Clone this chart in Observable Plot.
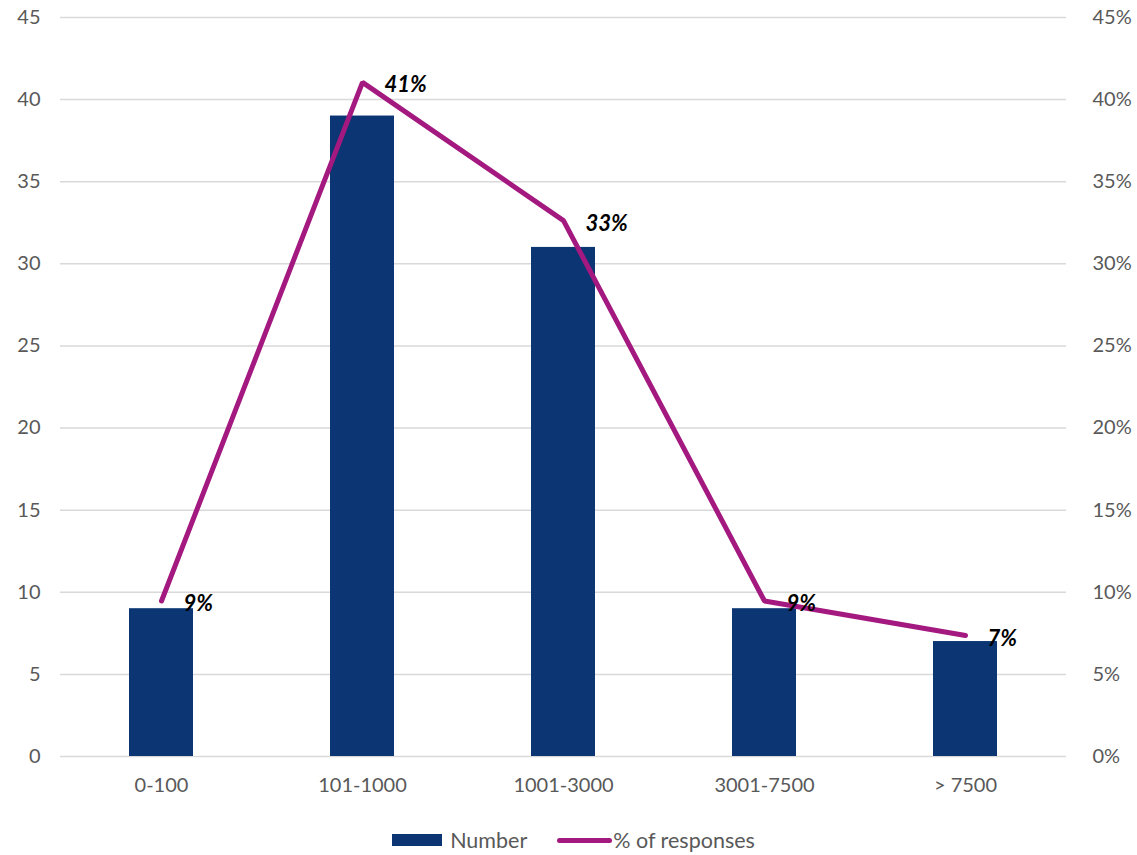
<!DOCTYPE html>
<html>
<head>
<meta charset="utf-8">
<script src="https://cdn.jsdelivr.net/npm/d3@7"></script>
<script src="https://cdn.jsdelivr.net/npm/@observablehq/plot@0.6"></script>
<style>
  body { margin: 0; background: #fff; font-family: Lato, "Open Sans", sans-serif; }
  #legend { display: flex; justify-content: center; align-items: center; height: 50px; color: #595959; font-size: 21.5px; font-family: Lato, sans-serif; padding-left: 10px; }
  .item { display: flex; align-items: center; }
  .sw-bar { width: 50px; height: 12px; background: #0B3573; margin-right: 8px; }
  .sw-line { width: 55px; height: 5px; border-radius: 3px; background: #A3197F; margin-right: 1px; }
</style>
</head>
<body>
<div id="chart"></div>
<div id="legend">
  <div class="item" style="margin-right:30px"><div class="sw-bar"></div><span>Number</span></div>
  <div class="item"><div class="sw-line"></div><span>% of responses</span></div>
</div>
<script>
const categories = ["0-100", "101-1000", "1001-3000", "3001-7500", "> 7500"];
const numbers = [9, 39, 31, 9, 7];
const percents = [9.47, 41.05, 32.63, 9.47, 7.37];
const pctLabels = ["9%", "41%", "33%", "9%", "7%"];
const leftTicks = [0, 5, 10, 15, 20, 25, 30, 35, 40, 45];

const data = categories.map((c, i) => ({cat: c, n: numbers[i], p: percents[i], lab: pctLabels[i]}));

const chart = Plot.plot({
  width: 1137,
  height: 815,
  marginTop: 17,
  marginBottom: 59,
  marginLeft: 60,
  marginRight: 71,
  style: {fontFamily: "Lato, 'Open Sans', sans-serif", fontSize: "20px", color: "#595959", background: "transparent"},
  x: {domain: categories, paddingInner: 0.68, paddingOuter: 0.34, label: null},
  y: {domain: [0, 45], label: null},
  marks: [
    Plot.gridY(leftTicks, {stroke: "#d9d9d9", strokeOpacity: 1, strokeWidth: 1.5}),
    Plot.axisX({tickSize: 0, tickPadding: 21, label: null, fill: "#595959"}),
    Plot.axisY(leftTicks, {anchor: "left", tickSize: 0, tickPadding: 20, label: null, fill: "#595959"}),
    Plot.axisY(leftTicks, {anchor: "right", tickSize: 0, tickPadding: 26, label: null, tickFormat: d => d + "%", fill: "#595959"}),
    Plot.barY(data, {x: "cat", y: "n", fill: "#0B3573"}),
    Plot.line(data, {x: "cat", y: "p", stroke: "#A3197F", strokeWidth: 5, strokeLinecap: "round", strokeLinejoin: "miter"}),
    Plot.text(data, {x: "cat", y: "p", text: "lab", dx: 22, dy: 3, textAnchor: "start", fill: "#000", fontWeight: "bold", fontStyle: "italic", fontSize: 22})
  ]
});
document.getElementById("chart").appendChild(chart);
</script>
</body>
</html>
